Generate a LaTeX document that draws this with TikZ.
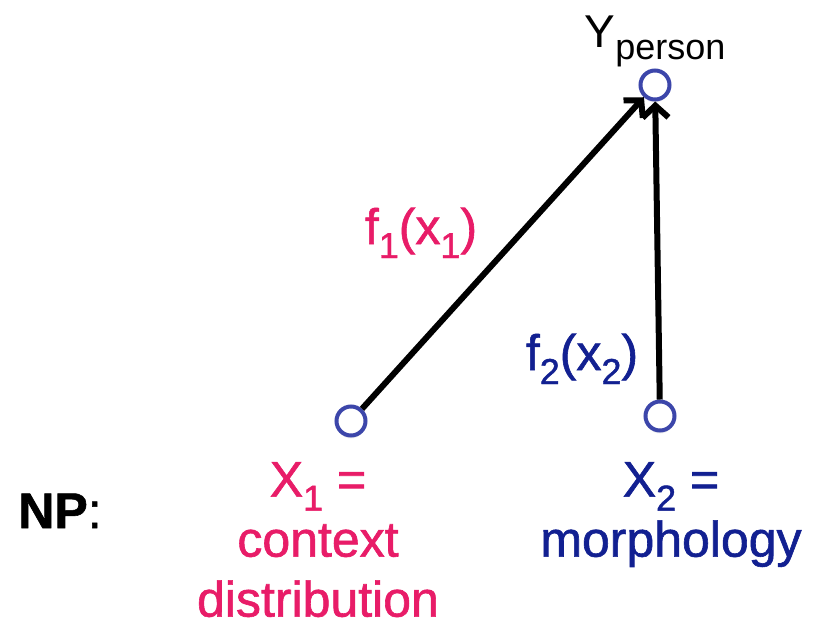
\documentclass[tikz,border=0pt]{standalone}
\usepackage{fontspec}
\setmainfont{Liberation Sans}
\newfontfamily\cuefont[FakeBold=1.2]{Liberation Sans}
\usepackage{tikz}
\usetikzlibrary{arrows.meta,positioning,shadows}
\definecolor{cuepink}{RGB}{232,28,104}
\definecolor{cueblue}{RGB}{18,32,145}
\definecolor{nodeblue}{RGB}{60,70,170}
\newcommand{\lowsub}[1]{\raisebox{-0.28em}{\fontsize{36}{36}\selectfont #1}}

\begin{document}
\begin{tikzpicture}[
    x=1pt, y=-1pt,
    varnode/.style={circle, draw=nodeblue, fill=white, line width=4pt,
        minimum size=29pt, inner sep=0pt,
        drop shadow={shadow xshift=0pt, shadow yshift=-3pt, fill=black!12}},
    bigtext/.style={font=\cuefont\fontsize{50}{60}\selectfont, inner sep=0pt},
    cuearrow/.style={-{Straight Barb[length=12pt, width=26pt]}, line width=6pt},
    >=Stealth
]
\useasboundingbox (0,0) rectangle (815,630);

% variables
\node[varnode] (yperson) at (655,85) {};
\node[varnode] (xone) at (351,421) {};
\node[varnode] (xtwo) at (660,416) {};

% cue functions
\draw[cuearrow] (xone) -- (yperson);
\draw[cuearrow] (xtwo) -- (yperson);

% labels
\node[anchor=base, font=\fontsize{46}{46}\selectfont, inner sep=0pt] (ylabel) at (655,47)
    {Y\lowsub{person}};
\node[bigtext, anchor=base, text=cuepink] (fone) at (421,244) {f\lowsub{1}(x\lowsub{1})};
\node[bigtext, anchor=base, text=cueblue] (ftwo) at (582,370) {f\lowsub{2}(x\lowsub{2})};

\node[bigtext, anchor=north, align=center, text=cuepink] (xonelabel) at (318,462)
    {X\lowsub{1} =\\context\\distribution};
\node[bigtext, anchor=north, align=center, text=cueblue] (xtwolabel) at (671,462)
    {X\lowsub{2} =\\morphology};
\node[bigtext, anchor=base] (np) at (60,528) {\textbf{NP}:};
\end{tikzpicture}
\end{document}
